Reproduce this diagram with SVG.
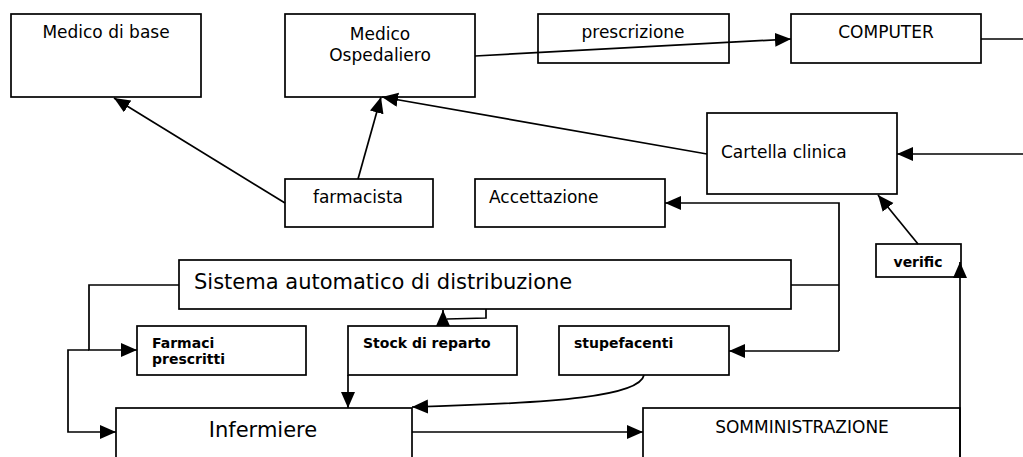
<svg xmlns="http://www.w3.org/2000/svg" width="1023" height="457" viewBox="0 0 1023 457">
<style>
.box{fill:#fff;stroke:#000;stroke-width:1.7}
.t{font-family:"DejaVu Sans",Verdana,sans-serif;font-size:17px;fill:#000}
.big{font-size:21px}
.b{font-weight:bold;font-size:14px}
.c{text-anchor:middle}
.ln{fill:none;stroke:#000;stroke-width:1.7}
</style>
<defs>
<marker id="ah" markerUnits="userSpaceOnUse" markerWidth="17" markerHeight="15" refX="16" refY="7" orient="auto" viewBox="0 0 17 15">
<path d="M0,0 L16,7 L0,14 z" fill="#000"/>
</marker>
</defs>
<rect width="1023" height="457" fill="#fff"/>
<g id="medico-base"><rect class="box" x="11" y="14" width="190" height="83"/><text class="t c" x="106" y="38">Medico di base</text></g>
<g id="medico-osp"><rect class="box" x="285" y="14" width="190" height="83"/><text class="t c" x="380" y="40">Medico</text><text class="t c" x="380" y="61">Ospedaliero</text></g>
<g id="prescrizione"><rect class="box" x="538" y="14" width="191" height="49"/><text class="t c" x="633" y="38">prescrizione</text></g>
<g id="computer"><rect class="box" x="791" y="14" width="190" height="49"/><text class="t c" x="886" y="38">COMPUTER</text></g>
<g id="cartella"><rect class="box" x="707" y="113" width="190" height="81"/><text class="t" x="721" y="158">Cartella clinica</text></g>
<g id="farmacista"><rect class="box" x="285" y="179" width="148" height="48"/><text class="t c" x="358" y="203">farmacista</text></g>
<g id="accettazione"><rect class="box" x="475" y="179" width="190" height="48"/><text class="t" x="489" y="203">Accettazione</text></g>
<g id="verific"><rect class="box" x="876" y="244" width="85" height="33"/><text class="t b c" x="918" y="267">verific</text></g>
<g id="sistema"><rect class="box" x="179" y="260" width="612" height="49"/><text class="t big" x="194" y="289">Sistema automatico di distribuzione</text></g>
<g id="farmaci"><rect class="box" x="137" y="326" width="169" height="49"/><text class="t b" x="152" y="348">Farmaci</text><text class="t b" x="152" y="364">prescritti</text></g>
<g id="stock"><rect class="box" x="348" y="326" width="169" height="49"/><text class="t b" x="363" y="348">Stock di reparto</text></g>
<g id="stupefacenti"><rect class="box" x="559" y="326" width="170" height="49"/><text class="t b" x="574" y="348">stupefacenti</text></g>
<g id="infermiere"><rect class="box" x="116" y="408" width="296" height="60"/><text class="t big c" x="263" y="437">Infermiere</text></g>
<g id="somministrazione"><rect class="box" x="643" y="408" width="317" height="60"/><text class="t c" x="802" y="433">SOMMINISTRAZIONE</text></g>
<g id="connectors">
<path class="ln" d="M475,56 L791,39" marker-end="url(#ah)"/>
<path class="ln" d="M981,39 H1023"/>
<path class="ln" d="M1023,154 H897" marker-end="url(#ah)"/>
<path class="ln" d="M707,154 L382,97" marker-end="url(#ah)"/>
<path class="ln" d="M358,179 L381,97" marker-end="url(#ah)"/>
<path class="ln" d="M285,203 L114,98" marker-end="url(#ah)"/>
<path class="ln" d="M918,244 L878,195" marker-end="url(#ah)"/>
<path class="ln" d="M960,457 V262" marker-end="url(#ah)"/>
<path class="ln" d="M791,285 H839"/>
<path class="ln" d="M839,351 V203 H665" marker-end="url(#ah)"/>
<path class="ln" d="M839,351 H729" marker-end="url(#ah)"/>
<path class="ln" d="M179,285 H89 V350 H137" marker-end="url(#ah)"/>
<path class="ln" d="M89,350 H68 V432 H116" marker-end="url(#ah)"/>
<path class="ln" d="M486,309 V318 L447,319"/>
<path class="ln" d="M443,326 V310" marker-end="url(#ah)"/>
<path class="ln" d="M348,375 V408" marker-end="url(#ah)"/>
<path class="ln" d="M644,375 C640,396 560,403 412,407" marker-end="url(#ah)"/>
<path class="ln" d="M412,432 H643" marker-end="url(#ah)"/>
</g>
</svg>
